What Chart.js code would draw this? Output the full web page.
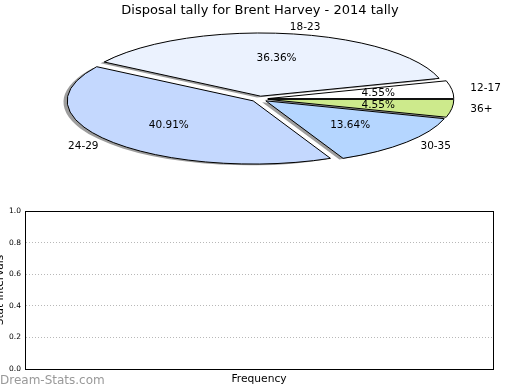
<!DOCTYPE html>
<html>
<head>
<meta charset="utf-8">
<script src="https://cdn.jsdelivr.net/npm/chart.js@4/dist/chart.umd.min.js"></script>
<style>
  html, body { margin: 0; padding: 0; background: #fff; }
  #wrap { position: relative; width: 520px; height: 390px; overflow: hidden; }
  #pie { position: absolute; left: 0; top: 0; }
  #bars { position: absolute; left: -6px; top: 195px; }
  #mark { position: absolute; left: 0; top: 373px; font: 12px "DejaVu Sans"; line-height: 14px; color: #999; }
</style>
</head>
<body>
<div id="wrap">
  <canvas id="bars" width="526" height="195"></canvas>
  <canvas id="pie" width="520" height="200"></canvas>
  <div id="mark">Dream-Stats.com</div>
</div>
<script>
// pie data, in matplotlib order (counter-clockwise from 3 o'clock)
const categories = ['12-17', '18-23', '24-29', '30-35', '36+']
const tally = [1, 8, 9, 3, 1]
const sliceColors = ['#ffffff', '#ebf2fe', '#c4d8fe', '#b5d6ff', '#cdea8c']

// empty frequency chart below
const barLabels = []
const barValues = []
const yMin = 0
const yMax = 1
const yStep = 0.2

// ellipse geometry of the pie
const CX = 259.5
const CY = 99
const RX = 186
const RY = 63.2
const EXPLODE = 0.045

Chart.defaults.font.family = "DejaVu Sans"
Chart.defaults.color = "#000"

const ellipsePie = {
  id: 'ellipsePie',
  beforeDatasetsDraw(chart) {
    const ctx = chart.ctx
    const arcs = chart.getDatasetMeta(0).data
    const R = arcs[0].outerRadius
    const s = RY / RX
    const place = () => {
      ctx.translate(CX, CY)
      ctx.scale(1, s)
      ctx.translate(-arcs[0].x, -arcs[0].y)
    }
    const mid = a => (a.startAngle + a.endAngle) / 2
    const wedge = (a, dx, dy) => {
      const ox = a.x + Math.cos(mid(a)) * EXPLODE * R + dx
      const oy = a.y + Math.sin(mid(a)) * EXPLODE * R + dy
      ctx.beginPath()
      ctx.moveTo(ox, oy)
      ctx.arc(ox, oy, R, a.startAngle, a.endAngle)
      ctx.closePath()
    }
    // shadows first
    ctx.save()
    place()
    ctx.fillStyle = 'rgba(60,60,60,0.5)'
    arcs.forEach(a => { wedge(a, -0.02 * R, 0.02 * R); ctx.fill() })
    ctx.restore()
    // the wedges themselves
    arcs.forEach(a => {
      ctx.save()
      place()
      ctx.translate(Math.cos(mid(a)) * EXPLODE * R, Math.sin(mid(a)) * EXPLODE * R)
      a.draw(ctx)
      ctx.restore()
    })
    // outlines with an even line width
    arcs.forEach(a => {
      ctx.save()
      place()
      wedge(a, 0, 0)
      ctx.restore()
      ctx.lineWidth = 1
      ctx.strokeStyle = '#000'
      ctx.stroke()
    })
    // labels and percentages
    const data = chart.data.datasets[0].data
    const total = data.reduce((p, v) => p + v, 0)
    ctx.save()
    ctx.fillStyle = '#000'
    ctx.font = '10.5px "DejaVu Sans"'
    ctx.textBaseline = 'middle'
    arcs.forEach((a, i) => {
      const m = mid(a)
      const c = Math.cos(m)
      const sn = Math.sin(m)
      const ex = CX + c * EXPLODE * RX
      const ey = CY + sn * EXPLODE * RY
      ctx.textAlign = 'center'
      ctx.fillText((data[i] / total * 100).toFixed(2) + '%', ex + c * 0.6 * RX, ey + sn * 0.6 * RY)
      ctx.textAlign = c > 0 ? 'left' : 'right'
      ctx.fillText(chart.data.labels[i], ex + c * 1.1 * RX, ey + sn * 1.1 * RY)
    })
    ctx.restore()
    return false
  }
}

// chart.js goes clockwise, so feed it reversed
const pieLabels = categories.slice().reverse()
const pieData = tally.slice().reverse()
const pieColors = sliceColors.slice().reverse()

new Chart(document.getElementById('pie'), {
  type: 'pie',
  data: {
    labels: pieLabels,
    datasets: [{
      data: pieData,
      backgroundColor: pieColors,
      borderWidth: 0,
      clip: false
    }]
  },
  options: {
    responsive: false,
    animation: false,
    events: [],
    radius: RX,
    rotation: 90,
    plugins: {
      legend: { display: false },
      tooltip: { enabled: false },
      title: {
        display: true,
        text: 'Disposal tally for Brent Harvey - 2014 tally',
        color: '#000',
        font: { size: 13, weight: 'normal' },
        padding: { top: 3, bottom: 0 }
      }
    }
  },
  plugins: [ellipsePie]
})

const frame = {
  id: 'frame',
  afterDraw(chart) {
    const { ctx, chartArea: a } = chart
    ctx.save()
    ctx.strokeStyle = '#000'
    ctx.lineWidth = 1
    ctx.strokeRect(Math.round(a.left) + 0.5, Math.round(a.top) + 0.5,
      Math.round(a.right - a.left), Math.round(a.bottom - a.top))
    ctx.restore()
  }
}

new Chart(document.getElementById('bars'), {
  type: 'bar',
  data: {
    labels: barLabels,
    datasets: [{ data: barValues, backgroundColor: '#6d9eeb' }]
  },
  options: {
    responsive: false,
    animation: false,
    events: [],
    layout: { padding: { top: 16, right: 27, left: 0, bottom: 0 } },
    plugins: {
      legend: { display: false },
      tooltip: { enabled: false }
    },
    scales: {
      x: {
        grid: { display: false },
        ticks: { display: false },
        border: { color: '#000' },
        title: {
          display: true,
          text: 'Frequency',
          color: '#000',
          font: { size: 10.7 },
          padding: { top: 0, bottom: 4 }
        },
        afterFit: s => { s.height = 21 }
      },
      y: {
        min: yMin,
        max: yMax,
        ticks: {
          stepSize: yStep,
          padding: 4,
          color: '#000',
          font: { size: 7.5 },
          callback: v => v.toFixed(1)
        },
        grid: { color: '#b8b8b8', lineWidth: 1, drawTicks: false },
        border: { color: '#000', dash: [1, 2] },
        title: {
          display: true,
          text: 'Stat Intervals',
          color: '#000',
          font: { size: 10.5 },
          padding: { top: 0, bottom: 0 }
        },
        afterFit: s => { s.width = 31 }
      }
    }
  },
  plugins: [frame]
})
</script>
</body>
</html>
